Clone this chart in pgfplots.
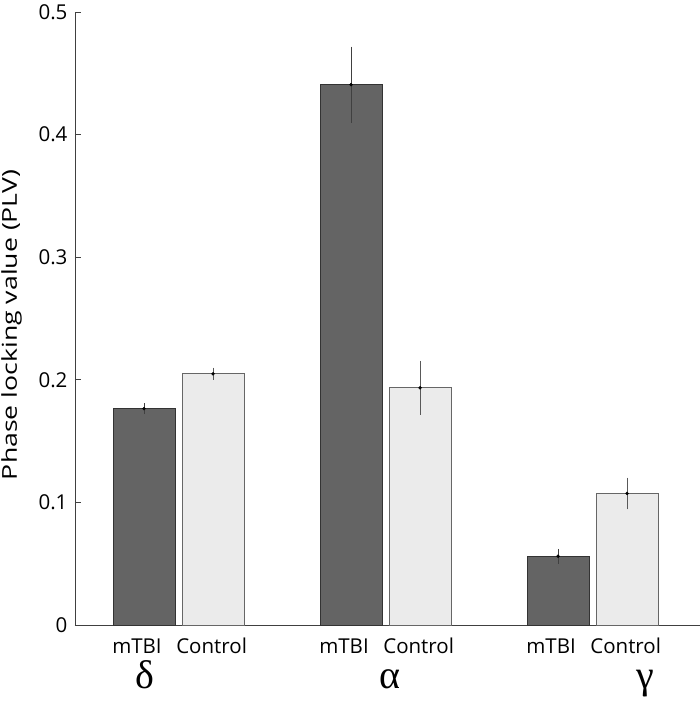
\documentclass[border=0pt]{standalone}
\usepackage{graphicx}
\usepackage{pgfplots}
\pgfplotsset{compat=1.18}
\usepackage{fontspec}
\setmainfont{Open Sans}
\newfontfamily\greekfont{Liberation Serif}
\definecolor{darkbar}{HTML}{646464}
\definecolor{lightbar}{HTML}{EBEBEB}
\newcommand{\tl}{\fontsize{20.5}{20.5}\selectfont}
\begin{document}
\begin{tikzpicture}
\begin{axis}[
  at={(0,0)}, anchor=south west,
  scale only axis, width=625pt, height=613pt,
  xmin=0.5, xmax=3.519, ymin=0, ymax=0.5,
  axis x line*=bottom, axis y line*=left,
  axis line style={black!75, line width=0.8pt},
  ytick={0,0.1,0.2,0.3,0.4,0.5},
  yticklabels={{\tl 0},{\tl 0.1},{\tl 0.2},{\tl 0.3},{\tl 0.4},{\tl 0.5}},
  major tick length=6pt,
  y tick style={black!75, line width=0.8pt},
  x tick style={draw=none},
  yticklabel style={anchor=east, xshift=-4pt},
  xtick={0.7995,1.16,1.7995,2.16,2.7995,3.16},
  xticklabels={{\tl mTBI},{\tl Control},{\tl mTBI},{\tl Control},{\tl mTBI},{\tl Control}},
  xticklabel style={anchor=base, yshift=-28pt},
  ylabel={\tl\scalebox{1.3}[1]{Phase locking value (PLV)}},
  ylabel style={at={([xshift=-58pt,yshift=-6.5pt]axis description cs:0,0.5)}, anchor=base},
  clip=false,
]
\addplot[ybar, bar width=62pt, bar shift=0pt, fill=darkbar, draw=black!80, line width=0.7pt,
  error bars/.cd, y dir=both, y explicit, error mark=none,
  error bar style={black!75, line width=0.9pt}]
  coordinates {(0.8333,0.1765) +- (0,0.0045) (1.8333,0.4407) +- (0,0.031) (2.8333,0.0561) +- (0,0.006)};
\addplot[ybar, bar width=62pt, bar shift=0pt, fill=lightbar, draw=black!60, line width=0.7pt,
  error bars/.cd, y dir=both, y explicit, error mark=none,
  error bar style={black!65, line width=0.9pt}]
  coordinates {(1.1667,0.2049) +- (0,0.005) (2.1667,0.1935) +- (0,0.022) (3.1667,0.1073) +- (0,0.013)};
\addplot[only marks, mark=*, mark size=1.5pt, black]
  coordinates {(0.8333,0.1765) (1.8333,0.4407) (2.8333,0.0561) (1.1667,0.2049) (2.1667,0.1935) (3.1667,0.1073)};
\node[anchor=base, yshift=-63pt, font=\greekfont\fontsize{40}{40}\selectfont] at (axis cs:0.838,0) {δ};
\node[anchor=base, yshift=-63pt, font=\greekfont\fontsize{40}{40}\selectfont] at (axis cs:2.022,0) {α};
\node[anchor=base, yshift=-63pt, font=\greekfont\fontsize{40}{40}\selectfont] at (axis cs:3.254,0) {γ};
\end{axis}
\pgfresetboundingbox
\useasboundingbox (-75pt,-81pt) rectangle (625pt,625pt);
\end{tikzpicture}
\end{document}
